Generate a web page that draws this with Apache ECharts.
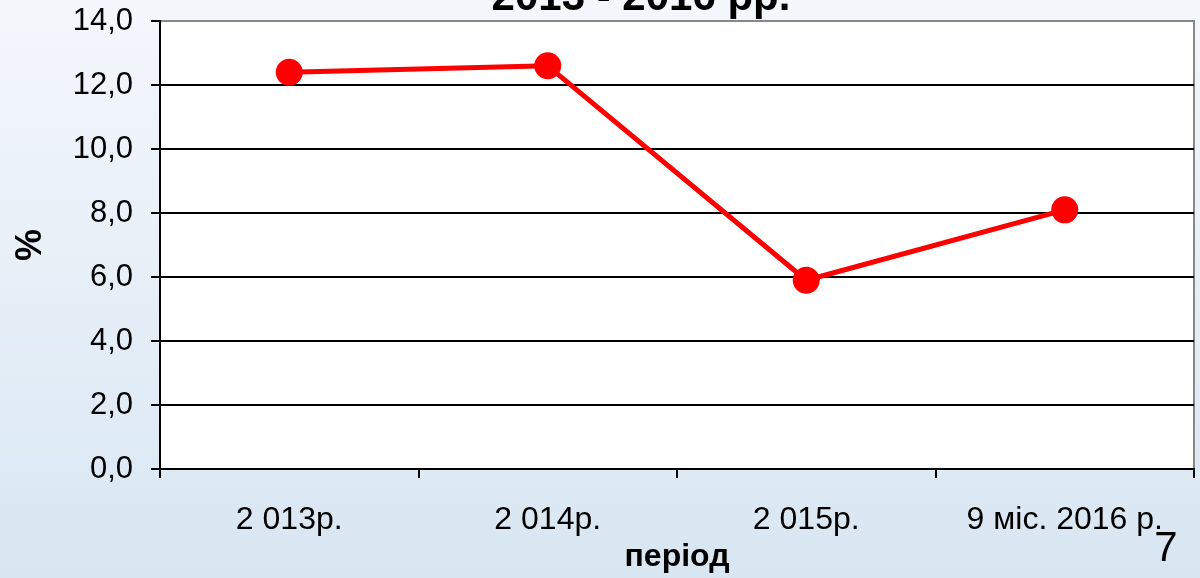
<!DOCTYPE html>
<html>
<head>
<meta charset="utf-8">
<script src="https://cdn.jsdelivr.net/npm/echarts@6/dist/echarts.min.js"></script>
<style>
  html, body { margin: 0; padding: 0; }
  #chart { width: 1200px; height: 578px; }
</style>
</head>
<body>
<div id="chart"></div>
<script>
// дані з графіка
var periods = ["2 013р.", "2 014р.", "2 015р.", "9 міс. 2016 р."];
var values = [12.4, 12.6, 5.9, 8.1];
var titleText = "2013 - 2016 рр.";
var slideNo = "7";

var font = "Liberation Sans, Arial, sans-serif";

var myChart = echarts.init(document.getElementById("chart"));
var option = {
  backgroundColor: new echarts.graphic.LinearGradient(0, 0, 0, 1, [
    { offset: 0, color: "#f4f7fc" },
    { offset: 1, color: "#d8e6f2" }
  ]),
  animation: false,
  graphic: [{
    type: "text",
    x: 641, y: -2,
    z: 10,
    style: { text: titleText, fontFamily: font, fontSize: 42, fontWeight: "bold", fill: "#000",
             align: "center", verticalAlign: "middle" }
  }, {
    type: "text",
    x: 1166, y: 549,
    style: { text: slideNo, fontFamily: font, fontSize: 42, fill: "#000",
             align: "center", verticalAlign: "middle" }
  }],
  grid: {
    left: 160, right: 6, top: 21, bottom: 103,
    show: true, backgroundColor: "#fff", borderColor: "#888", borderWidth: 2
  },
  xAxis: {
    type: "category",
    data: periods,
    boundaryGap: true,
    name: "період",
    nameLocation: "middle",
    nameGap: 70,
    nameTextStyle: { fontFamily: font, fontSize: 32, fontWeight: "bold", color: "#000" },
    axisLine: { lineStyle: { color: "#000", width: 2 } },
    axisTick: { show: true, length: 9, lineStyle: { color: "#000", width: 2 } },
    axisLabel: { fontFamily: font, fontSize: 32, color: "#000", margin: 35 }
  },
  yAxis: {
    type: "value",
    min: 0, max: 14, interval: 2,
    name: "%",
    nameLocation: "middle",
    nameRotate: 90,
    nameGap: 111,
    nameTextStyle: { fontFamily: font, fontSize: 36, fontWeight: "bold", color: "#000" },
    axisLine: { show: true, lineStyle: { color: "#000", width: 2 } },
    axisTick: { show: true, length: 9, lineStyle: { color: "#000", width: 2 } },
    axisLabel: {
      fontFamily: font, fontSize: 31, color: "#000", margin: 27,
      formatter: function (v) { return v.toFixed(1).replace(".", ","); }
    },
    splitLine: {
      show: true,
      lineStyle: { color: ["#000", "#000", "#000", "#000", "#000", "#000", "#000", "#888"], width: 2 }
    }
  },
  series: [{
    type: "line",
    data: values,
    symbol: "circle",
    symbolSize: 27,
    itemStyle: { color: "#ff0000" },
    lineStyle: { color: "#ff0000", width: 5 }
  }]
};
myChart.setOption(option);
</script>
</body>
</html>
